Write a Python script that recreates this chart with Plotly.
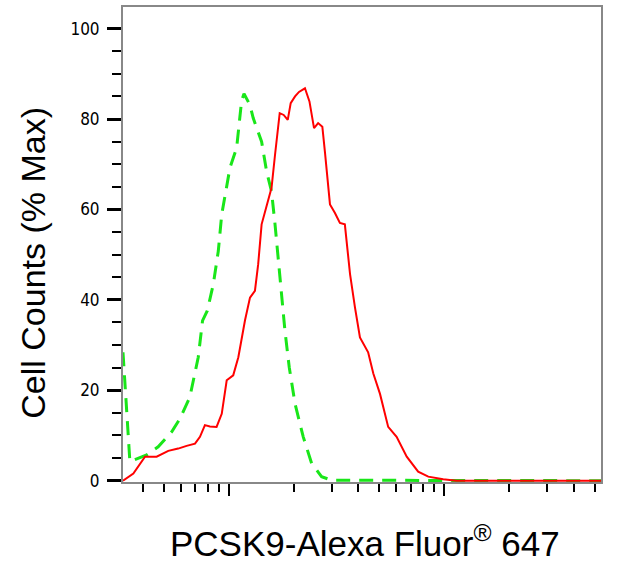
import plotly.graph_objects as go

# PCSK9 histogram
# x: fluorescence intensity (log axis), y: cell counts as % of max

isotype_x = [323.6, 348.3, 416.9, 471.0, 544.5, 594.3, 660.7, 722.8, 756.8, 796.2,
             849.2, 895.4, 928.9, 979.5, 1014, 1089, 1117, 1148, 1178, 1256,
             1300, 1422, 1500, 1581, 1641, 1698, 1762, 1824, 1910, 2032,
             2218, 2427, 2698, 3000, 53333]
isotype_y = [28.4, 4.2, 5.7, 7.5, 10.8, 13.7, 18.5, 27.3, 35.4, 37.6,
             43.5, 50.8, 58.9, 65.5, 69.2, 73.6, 79.4, 84.0, 85.6, 83.1,
             80.2, 75.0, 68.4, 64.0, 56.7, 49.3, 41.3, 33.2, 25.1, 17.0,
             9.7, 3.8, 0.9, 0.1, 0.0]

pcsk9_x = [323.6, 361.4, 409.3, 463.4, 524.8, 583.4, 638.3, 698.2, 736.2, 776.2,
           818.5, 879.0, 928.9, 979.5, 1050, 1109, 1191, 1256, 1324, 1371,
           1422, 1500, 1581, 1641, 1725, 1800, 1880, 1940, 2032, 2120,
           2259, 2370, 2489, 2600, 2720, 2799, 2951, 3112, 3281, 3459,
           3656, 3855, 4064, 4436, 4688, 5035, 5495, 6012, 6699, 7568,
           8433, 9886, 11402, 53333]
pcsk9_y = [0.0, 1.6, 5.3, 5.3, 6.6, 7.1, 7.7, 8.2, 9.7, 12.3,
           12.0, 11.9, 14.8, 22.2, 23.3, 27.3, 35.5, 40.5, 42.0, 47.9,
           56.7, 61.1, 64.8, 72.1, 81.3, 80.9, 79.8, 83.5, 85.0, 86.0,
           86.8, 83.9, 78.0, 79.1, 78.3, 72.5, 61.1, 59.2, 57.0, 56.7,
           45.7, 38.3, 31.7, 28.4, 23.7, 19.2, 11.9, 9.7, 5.3, 2.0,
           0.9, 0.3, 0.0, 0.0]

y_major = [0, 20, 40, 60, 80, 100]
y_minor = [5, 10, 15, 25, 30, 35, 45, 50, 55, 65, 70, 75, 85, 90, 95]
x_major = [1000, 10000]
x_minor = [400, 500, 600, 700, 800, 900,
           2000, 3000, 4000, 5000, 6000, 7000, 8000, 9000,
           20000, 30000, 40000, 50000]

fig = go.Figure()

fig.add_trace(go.Scatter(
    x=isotype_x, y=isotype_y, mode='lines', name='isotype',
    line=dict(color='#19e619', width=3, dash='14px,9px')))

fig.add_trace(go.Scatter(
    x=pcsk9_x, y=pcsk9_y, mode='lines', name='PCSK9',
    line=dict(color='#ff0000', width=2)))

axis_font = dict(family='Liberation Sans Narrow, Arial Narrow, DejaVu Sans Condensed', size=17, color='black')

fig.update_layout(
    width=638, height=571,
    margin=dict(l=123, r=37, t=5, b=89),
    paper_bgcolor='white', plot_bgcolor='white',
    showlegend=False,
    xaxis=dict(
        type='log', range=[2.51, 4.727],
        showgrid=False, zeroline=False,
        showline=True, linecolor='#888888', linewidth=2, mirror=True,
        tickmode='array', tickvals=x_major, showticklabels=False,
        ticks='outside', ticklen=12, tickwidth=2, tickcolor='black',
        minor=dict(tickmode='array', tickvals=x_minor, ticks='outside',
                   ticklen=8, tickwidth=1.5, tickcolor='black', showgrid=False)),
    yaxis=dict(
        range=[-0.29, 104.78],
        showgrid=False, zeroline=False,
        showline=True, linecolor='#888888', linewidth=2, mirror=True,
        tickmode='array', tickvals=y_major, ticktext=[str(v) for v in y_major],
        ticks='outside', ticklen=14, tickwidth=2.5, tickcolor='black',
        ticklabelstandoff=4, tickfont=axis_font,
        minor=dict(tickmode='array', tickvals=y_minor, ticks='outside',
                   ticklen=9, tickwidth=1.5, tickcolor='black', showgrid=False)),
    annotations=[
        dict(text='Cell Counts (% Max)', xref='paper', yref='paper',
             x=-0.19, y=0.462, textangle=-90, showarrow=False,
             xanchor='center', yanchor='middle',
             font=dict(family='Arial, Liberation Sans', size=34, color='black')),
        dict(text='PCSK9-Alexa Fluor<sup>®</sup> 647', xref='paper', yref='paper',
             x=0.506, y=-0.124, showarrow=False,
             xanchor='center', yanchor='middle',
             font=dict(family='Arial, Liberation Sans', size=35, color='black')),
    ])

# page body has an 8px default margin; drop it so the figure sits at 0,0
fig.write_html('out.html', config={'displayModeBar': False},
               post_script="document.body.style.margin='0';")
